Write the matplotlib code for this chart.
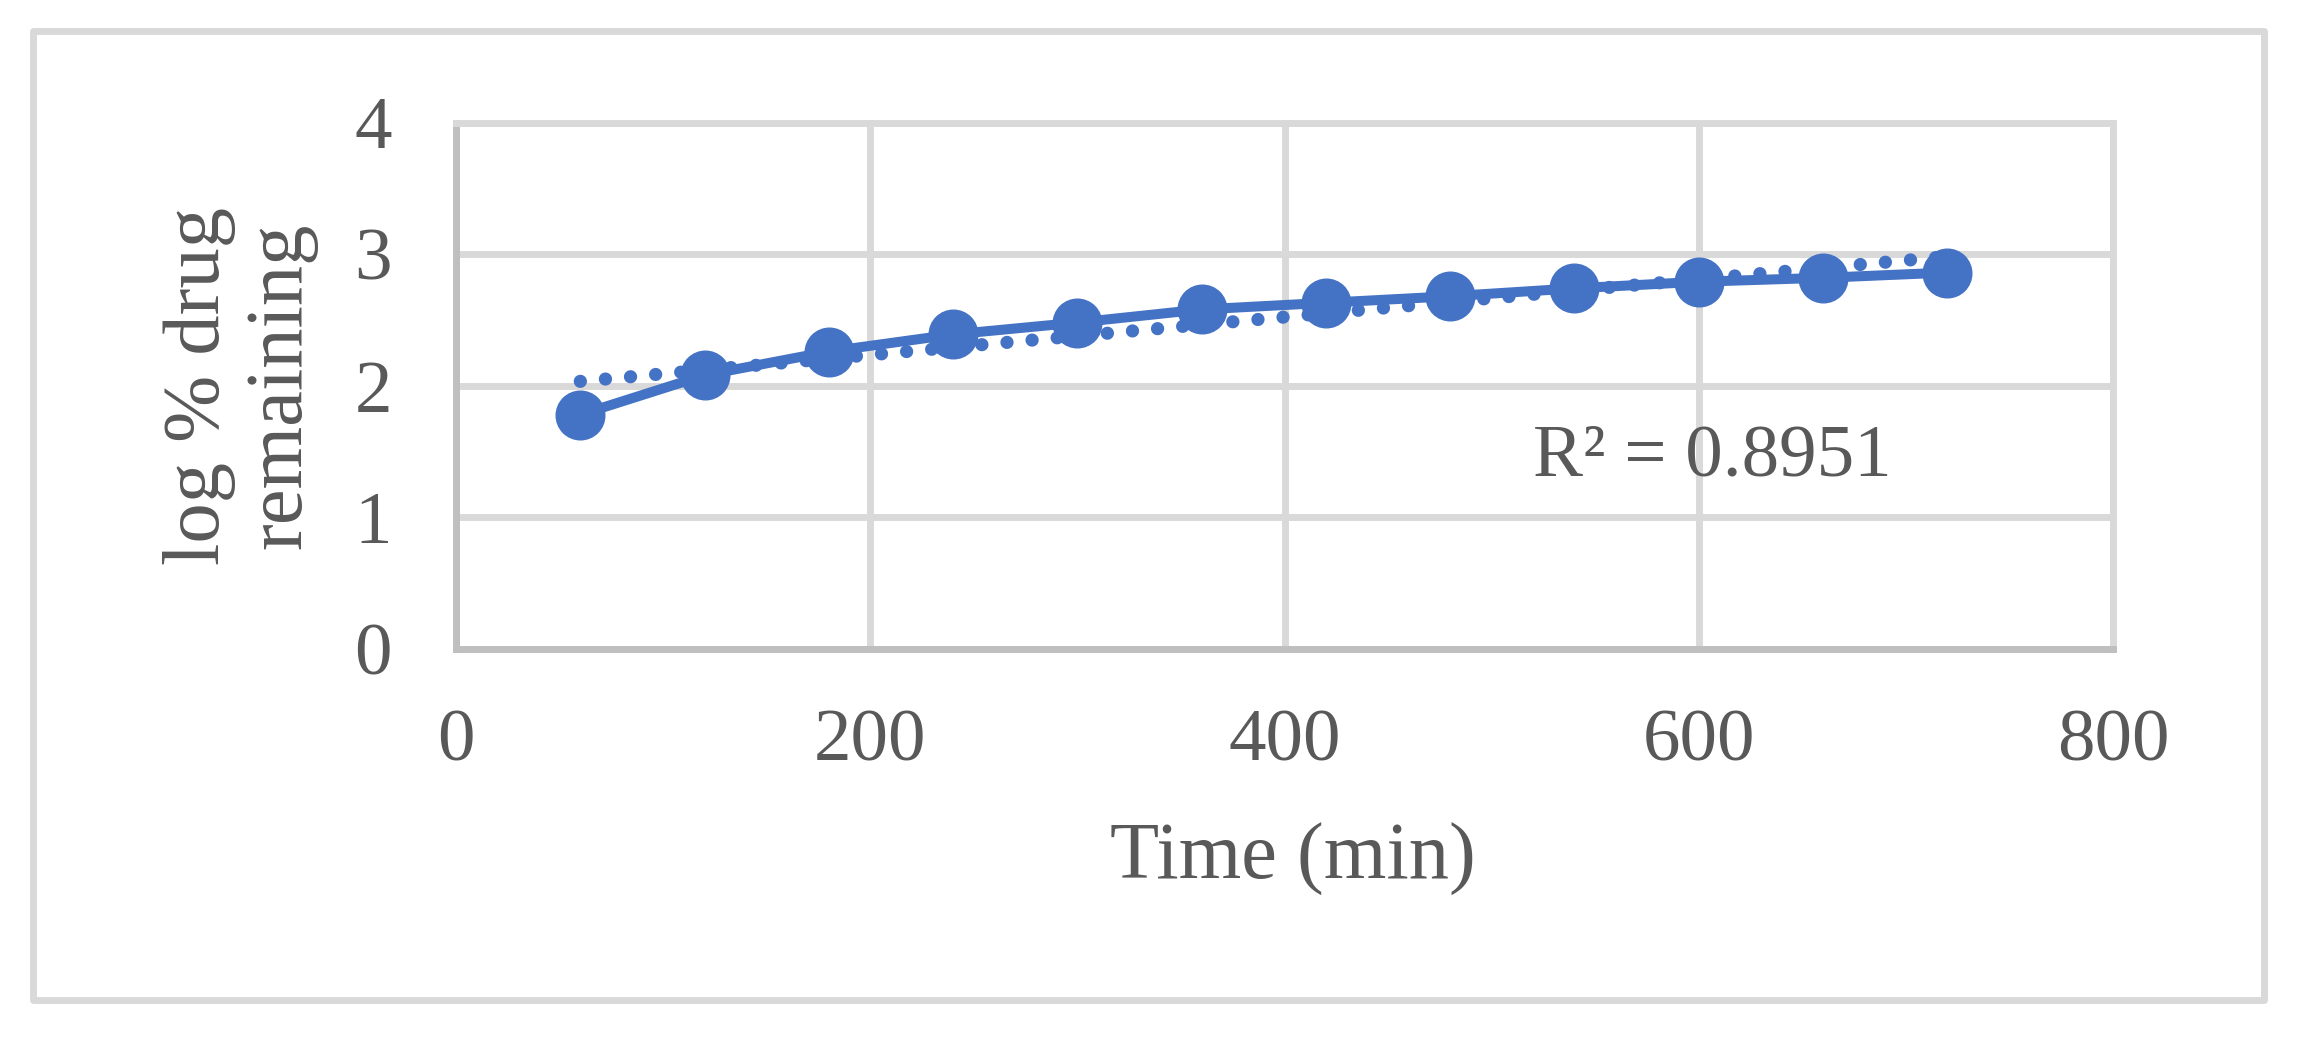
import matplotlib
matplotlib.use("Agg")
import matplotlib.pyplot as plt
import numpy as np
from matplotlib.patches import Rectangle

# release data
time_min = [60, 120, 180, 240, 300, 360, 420, 480, 540, 600, 660, 720]
log_remaining = [1.78, 2.08, 2.26, 2.39, 2.48, 2.58, 2.63, 2.68, 2.74, 2.79, 2.82, 2.86]
x_ticks = [0, 200, 400, 600, 800]
y_ticks = [0, 1, 2, 3, 4]
r2_label = "R² = 0.8951"

BLUE = "#4472C4"
TXT = "#595959"
GRID = "#D9D9D9"
SPINE = "#BFBFBF"

plt.rcParams["font.family"] = ["Liberation Serif", "DejaVu Serif"]

fig = plt.figure(figsize=(23.13, 10.42), dpi=100)
fig.patches.append(Rectangle((33 / 2313, 1 - 1000 / 1042), (2264 - 33) / 2313, (1000 - 31) / 1042,
                             transform=fig.transFigure, fill=False, edgecolor=GRID,
                             lw=5, joinstyle="round", zorder=0))

ax = fig.add_axes([456 / 2313, 1 - 649 / 1042, (2113 - 456) / 2313, (649 - 122.5) / 1042])
ax.set_xlim(0, 800)
ax.set_ylim(0, 4)
ax.set_xticks(x_ticks)
ax.set_yticks(y_ticks)
ax.grid(True, color=GRID, lw=5)
ax.set_axisbelow(True)
for side in ("top", "right"):
    ax.spines[side].set_color(GRID)
    ax.spines[side].set_linewidth(5)
for side in ("left", "bottom"):
    ax.spines[side].set_color(SPINE)
    ax.spines[side].set_linewidth(5)
ax.tick_params(length=0, labelsize=54, labelcolor=TXT)
ax.tick_params(axis="y", pad=46)
ax.tick_params(axis="x", pad=43)

# linear trendline fitted to the points (Excel-style)
slope, icpt = np.polyfit(time_min, log_remaining, 1)
tx = np.array([time_min[0], time_min[-1]])
ax.plot(tx, slope * tx + icpt, color=BLUE, lw=9.5, linestyle=(0, (0.01, 1.9)),
        dash_capstyle="round", zorder=2)
ax.plot(time_min, log_remaining, color=BLUE, lw=7.2, marker="o", ms=35,
        clip_on=False, zorder=3)

ax.text(520, 1.45, r2_label, fontsize=54, color=TXT, ha="left", va="center")

fig.text(0.104, 0.6296, "log % drug\nremaining", rotation=90, fontsize=58, color=TXT,
         ha="center", va="center", multialignment="center", linespacing=1.15)
fig.text(0.559, 0.175, "Time (min)", fontsize=58, color=TXT, ha="center", va="center")

fig.savefig("out.png", dpi=100)
